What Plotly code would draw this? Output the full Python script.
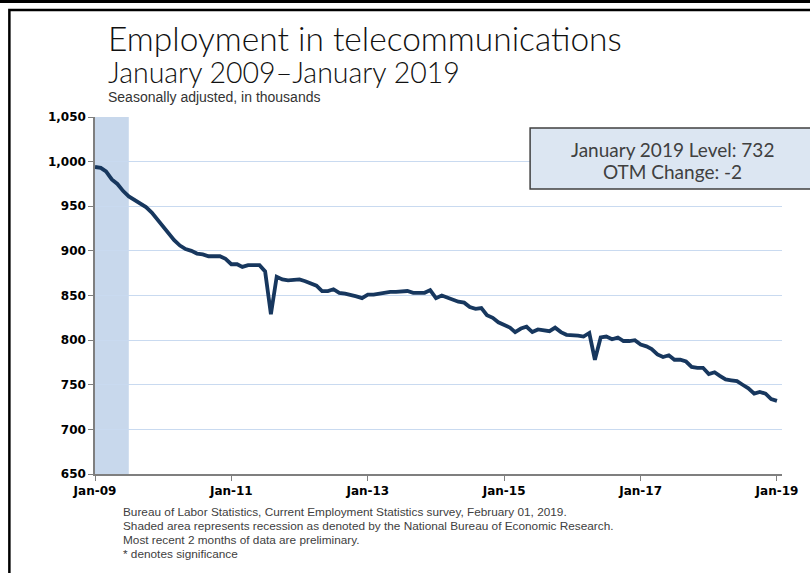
import plotly.graph_objects as go
import pandas as pd

months = pd.date_range("2009-01-01", "2019-01-01", freq="MS")
employment = [
    994, 993, 989, 980, 975, 967, 961, 957, 953, 949, 943, 935,
    927, 919, 912, 906, 902, 900, 897, 896, 894, 894, 894, 891,
    885, 885, 882, 884, 884, 884, 877, 829, 871, 868, 867, 867,
    868, 866, 864, 861, 855, 855, 857, 853, 852, 851, 849, 847,
    851, 851, 852, 853, 854, 854, 855, 855, 853, 853, 853, 856,
    847, 850, 848, 845, 843, 842, 837, 835, 836, 828, 825, 820,
    817, 814, 809, 813, 815, 809, 812, 811, 810, 814, 809, 806,
    806, 805, 804, 808, 778, 803, 804, 801, 803, 799, 799, 800,
    795, 793, 790, 784, 781, 783, 778, 778, 776, 770, 769, 769,
    762, 764, 760, 756, 755, 754, 750, 746, 740, 742, 740, 734,
    732,
]
recession = ["2009-01-01", "2009-07-01"]
y_ticks = [650, 700, 750, 800, 850, 900, 950, 1000, 1050]
x_ticks = ["2009-01-01", "2011-01-01", "2013-01-01", "2015-01-01", "2017-01-01", "2019-01-01"]
x_tick_labels = ["Jan-09", "Jan-11", "Jan-13", "Jan-15", "Jan-17", "Jan-19"]

title = "Employment in telecommunications"
subtitle = "January 2009\u2013January 2019"
units = "Seasonally adjusted, in thousands"
box_lines = ["January 2019 Level: 732", "OTM Change: -2"]
notes = [
    "Bureau of Labor Statistics, Current Employment Statistics survey, February 01, 2019.",
    "Shaded area represents recession as denoted by the National Bureau of Economic Research.",
    "Most recent 2 months of data are preliminary.",
    "* denotes significance",
]

W, H = 810, 573
L, R, T, B = 95, 25, 117, 99
PW, PH = W - L - R, H - T - B


def px(x):
    return (x - L) / PW


def py(y):
    return (H - B - y) / PH


fig = go.Figure()
fig.add_trace(go.Scatter(
    x=months, y=employment, mode="lines",
    line=dict(color="#17375e", width=3.8),
    hoverinfo="x+y", showlegend=False,
))

title_font = "Lato, 'Open Sans', sans-serif"
note_font = "'Liberation Sans', Arial, sans-serif"

ann = [
    dict(text=title, x=px(106), y=py(38), xanchor="left", yanchor="middle",
         font=dict(family=title_font, size=33.5, color="#111111", weight=300)),
    dict(text=subtitle, x=px(106), y=py(72), xanchor="left", yanchor="middle",
         font=dict(family=title_font, size=28.5, color="#111111", weight=300)),
    dict(text=units, x=px(106), y=py(96.5), xanchor="left", yanchor="middle",
         font=dict(family=note_font, size=14, color="#333333")),
    dict(text=box_lines[0], x=px(675), y=py(149), xanchor="center", yanchor="middle",
         font=dict(family=title_font, size=19, color="#404040")),
    dict(text=box_lines[1], x=px(675), y=py(171), xanchor="center", yanchor="middle",
         font=dict(family=title_font, size=19, color="#404040")),
]
for i, n in enumerate(notes):
    ann.append(dict(text=n, x=px(121), y=py(512 + 14 * i), xanchor="left", yanchor="middle",
                    font=dict(family=note_font, size=11.8, color="#404040")))
for a in ann:
    a.update(xref="paper", yref="paper", showarrow=False)

shapes = [
    dict(type="rect", xref="x", yref="paper", x0=recession[0], x1=recession[1], y0=0, y1=1,
         fillcolor="#c8d8ec", line=dict(width=0), layer="below"),
    dict(type="rect", xref="paper", yref="paper", x0=px(532), x1=px(815), y0=py(128), y1=py(189),
         fillcolor="#dce6f2", line=dict(color="#404040", width=1.5), layer="above"),
    dict(type="line", xref="paper", yref="paper", x0=px(-5), x1=px(820), y0=py(1.5), y1=py(1.5),
         line=dict(color="#000000", width=3)),
    dict(type="rect", xref="paper", yref="paper", x0=px(9), x1=px(830), y0=py(10), y1=py(600),
         line=dict(color="#000000", width=2.5), fillcolor="rgba(0,0,0,0)"),
]

fig.update_layout(
    width=W, height=H,
    margin=dict(l=L, r=R, t=T, b=B, pad=0),
    paper_bgcolor="white", plot_bgcolor="white",
    annotations=ann, shapes=shapes,
    showlegend=False,
)
fig.update_xaxes(
    type="date", range=["2009-01-01", "2019-01-28"],
    tickvals=x_ticks, ticktext=x_tick_labels,
    showgrid=False, showline=True, linecolor="#7f7f7f", linewidth=1.5,
    ticks="outside", ticklen=5, tickcolor="#7f7f7f", tickwidth=1,
    tickfont=dict(family="'DejaVu Sans', Verdana, sans-serif", size=12, color="#000000", weight="bold"),
    zeroline=False,
)
fig.update_yaxes(
    range=[650, 1050], tickvals=y_ticks, tickformat=",d",
    showgrid=True, gridcolor="#c9daf0", gridwidth=1.3,
    showline=True, linecolor="#7f7f7f", linewidth=1.5,
    ticks="outside", ticklen=5, tickcolor="#7f7f7f", tickwidth=1,
    tickfont=dict(family="'DejaVu Sans', Verdana, sans-serif", size=12, color="#000000", weight="bold"),
    zeroline=False,
)

fig.write_html("out.html", config={"displayModeBar": False},
               post_script="document.body.style.margin='0';")
